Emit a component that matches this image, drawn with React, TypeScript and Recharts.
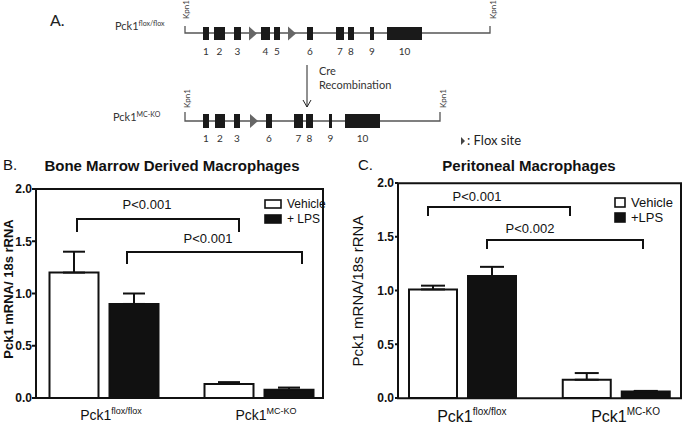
import React from "react";
import { Bar, BarChart, ErrorBar, Legend, XAxis, YAxis } from "recharts";

// genotypes on the x axis
const genotypes = ["flox", "ko"];
const genotypeSup = ["flox/flox", "MC-KO"];

// B. bone marrow derived macrophages
const bmdmVehicle = [1.2, 0.134];
const bmdmVehicleErr = [0.2, 0.018];
const bmdmLps = [0.9, 0.08];
const bmdmLpsErr = [0.1, 0.02];

// C. peritoneal macrophages
const periVehicle = [1.01, 0.17];
const periVehicleErr = [0.035, 0.062];
const periLps = [1.135, 0.06];
const periLpsErr = [0.085, 0.006];

const yTicks = [0, 0.5, 1, 1.5, 2];

const bmdmData = genotypes.map((g, i) => ({
  name: g,
  vehicle: bmdmVehicle[i],
  vehicleErr: [0, bmdmVehicleErr[i]],
  lps: bmdmLps[i],
  lpsErr: [0, bmdmLpsErr[i]],
}));

const periData = genotypes.map((g, i) => ({
  name: g,
  vehicle: periVehicle[i],
  vehicleErr: [0, periVehicleErr[i]],
  lps: periLps[i],
  lpsErr: [0, periLpsErr[i]],
}));

const ARIAL = "'Liberation Sans', Arial, sans-serif";
const CALIBRI = "Lato, 'Open Sans', sans-serif";

function GenotypeTick(props: any) {
  const { x, y, payload, fontSize, supSize, dx } = props;
  const sup = genotypeSup[genotypes.indexOf(payload.value)];
  return (
    <text
      x={x + dx}
      y={y + fontSize}
      textAnchor="middle"
      fontFamily={ARIAL}
      fontSize={fontSize}
      fill="#111"
    >
      Pck1
      <tspan dy={-fontSize * 0.42} fontSize={supSize}>
        {sup}
      </tspan>
    </text>
  );
}

function makeLegend(boxW: number, boxH: number, fontSize: number, plus: string) {
  return function LegendBox() {
    const items = [
      { label: "Vehicle", fill: "#fff" },
      { label: plus, fill: "#111" },
    ];
    return (
      <div style={{ fontFamily: ARIAL, fontSize, color: "#111", lineHeight: 1 }}>
        {items.map((it) => (
          <div key={it.label} style={{ display: "flex", alignItems: "center", height: 15 }}>
            <svg width={boxW + 2} height={boxH + 2} style={{ marginRight: 5 }}>
              <rect x={1} y={1} width={boxW} height={boxH} fill={it.fill} stroke="#111" strokeWidth={1.6} />
            </svg>
            <span>{it.label}</span>
          </div>
        ))}
      </div>
    );
  };
}

function GeneDiagram() {
  const topExons = [
    [203, 209, "1"], [214, 225, "2"], [234, 241, "3"], [261, 270, "4"], [274, 280, "5"],
    [307, 313, "6"], [336, 344, "7"], [348, 354, "8"], [370, 374, "9"], [387, 422, "10"],
  ] as [number, number, string][];
  const botExons = [
    [203, 209, "1"], [215, 225, "2"], [234, 240, "3"], [266, 272, "6"],
    [294, 303, "7"], [306, 313, "8"], [329, 332, "9"], [345, 380, "10"],
  ] as [number, number, string][];
  const tri = (x: number, cy: number) => (
    <polygon key={x} points={`${x},${cy - 7} ${x + 8},${cy} ${x},${cy + 7}`} fill="#666" />
  );
  const kpn = (x: number, y: number) => (
    <text transform={`translate(${x},${y}) rotate(-90)`} fontSize={8} fill="#444" fontFamily={CALIBRI}>
      Kpn1
    </text>
  );
  return (
    <g fontFamily={CALIBRI} fill="#333">
      <text x={50} y={26} fontSize={16} fill="#222">A.</text>
      <text x={115} y={30} fontSize={11} fill="#333">
        Pck1<tspan dy={-4} fontSize={7}>flox/flox</tspan>
      </text>
      <text x={113} y={121} fontSize={11} fill="#333">
        Pck1<tspan dy={-4} fontSize={7}>MC-KO</tspan>
      </text>

      {/* floxed allele */}
      <polyline points="185,26 185,33 490,33 490,26" fill="none" stroke="#555" strokeWidth={1.3} />
      {kpn(189, 19)}
      {kpn(496, 19)}
      {topExons.map(([a, b, n]) => (
        <g key={"t" + n}>
          <rect x={a} y={27} width={b - a} height={13} fill="#1a1a1a" />
          <text x={(a + b) / 2} y={55} fontSize={10} textAnchor="middle" fill="#333">{n}</text>
        </g>
      ))}
      {tri(249, 33.5)}
      {tri(288, 33.5)}

      {/* arrow */}
      <line x1={307} y1={65} x2={307} y2={107} stroke="#222" strokeWidth={1} />
      <polyline points="303,100 307,107 311,100" fill="none" stroke="#222" strokeWidth={1} />
      <text x={319} y={75} fontSize={11} fill="#333">Cre</text>
      <text x={319} y={89} fontSize={11} fill="#333">Recombination</text>

      {/* knockout allele */}
      <polyline points="185,112 185,121 440,121 440,112" fill="none" stroke="#555" strokeWidth={1.3} />
      {kpn(190, 108)}
      {kpn(446, 108)}
      {botExons.map(([a, b, n]) => (
        <g key={"b" + n}>
          <rect x={a} y={114} width={b - a} height={14} fill="#1a1a1a" />
          <text x={(a + b) / 2} y={142} fontSize={10} textAnchor="middle" fill="#333">{n}</text>
        </g>
      ))}
      {tri(250, 121)}

      <polygon points="461,137 465,141 461,145" fill="#444" />
      <text x={467} y={145} fontSize={13} fill="#222">: Flox site</text>
    </g>
  );
}

function Bracket({ x1, x2, y, h, label, lx, ly, fs }: any) {
  return (
    <g>
      <polyline points={`${x1},${y + h} ${x1},${y} ${x2},${y} ${x2},${y + h}`} fill="none" stroke="#111" strokeWidth={2} />
      <text x={lx} y={ly} textAnchor="middle" fontSize={fs} fontFamily={ARIAL} fill="#111">{label}</text>
    </g>
  );
}

export default function App() {
  return (
    <div style={{ position: "absolute", left: 0, top: 0, width: 683, height: 429, background: "#fff", overflow: "hidden" }}>
      {/* B */}
      <div style={{ position: "absolute", left: 0, top: 150 }}>
        <BarChart
          width={340}
          height={279}
          data={bmdmData}
          margin={{ top: 39, right: 17, left: 6, bottom: 6 }}
          barSize={49}
          barGap={11}
        >
          <XAxis
            dataKey="name"
            padding={{ left: -9.5, right: -13.5 }}
            axisLine={false}
            tickLine={false}
            height={25}
            tick={<GenotypeTick fontSize={14} supSize={9} dx={7} />}
          />
          <YAxis
            domain={[0, 2]}
            ticks={yTicks}
            width={30}
            axisLine={{ stroke: "#111", strokeWidth: 2 }}
            tickLine={{ stroke: "#111", strokeWidth: 2 }}
            tickSize={4}
            tickMargin={0}
            tickFormatter={(v: number) => v.toFixed(1)}
            tick={{ fill: "#111", fontSize: 12, fontWeight: 700, fontFamily: ARIAL }}
          />
          <Legend
            verticalAlign="middle"
            align="center"
            layout="vertical"
            content={makeLegend(16, 8, 12, "+ LPS")}
            wrapperStyle={{ left: 264, top: 46, width: 70, height: 30 }}
          />
          <Bar dataKey="vehicle" fill="#fff" stroke="#111" strokeWidth={2} isAnimationActive={false}>
            <ErrorBar dataKey="vehicleErr" width={11} stroke="#111" strokeWidth={2} />
          </Bar>
          <Bar dataKey="lps" fill="#111" stroke="#111" strokeWidth={2} isAnimationActive={false}>
            <ErrorBar dataKey="lpsErr" width={11} stroke="#111" strokeWidth={2} />
          </Bar>
        </BarChart>
      </div>

      {/* C */}
      <div style={{ position: "absolute", left: 340, top: 150 }}>
        <BarChart
          width={343}
          height={279}
          data={periData}
          margin={{ top: 33, right: 2, left: 28, bottom: 6 }}
          barSize={48}
          barGap={11}
        >
          <XAxis
            dataKey="name"
            padding={{ left: -12, right: -12.5 }}
            axisLine={false}
            tickLine={false}
            height={25}
            tick={<GenotypeTick fontSize={16} supSize={10} dx={9} />}
          />
          <YAxis
            domain={[0, 2]}
            ticks={yTicks}
            width={30}
            axisLine={{ stroke: "#111", strokeWidth: 2 }}
            tickLine={{ stroke: "#111", strokeWidth: 2 }}
            tickSize={3}
            tickMargin={1}
            tickFormatter={(v: number) => v.toFixed(1)}
            tick={{ fill: "#111", fontSize: 12, fontWeight: 700, fontFamily: ARIAL }}
          />
          <Legend
            verticalAlign="middle"
            align="center"
            layout="vertical"
            content={makeLegend(10, 9, 13, "+LPS")}
            wrapperStyle={{ left: 274, top: 45, width: 70, height: 30 }}
          />
          <Bar dataKey="vehicle" fill="#fff" stroke="#111" strokeWidth={2} isAnimationActive={false}>
            <ErrorBar dataKey="vehicleErr" width={12} stroke="#111" strokeWidth={2} />
          </Bar>
          <Bar dataKey="lps" fill="#111" stroke="#111" strokeWidth={2} isAnimationActive={false}>
            <ErrorBar dataKey="lpsErr" width={12} stroke="#111" strokeWidth={2} />
          </Bar>
        </BarChart>
      </div>

      <svg width={683} height={429} style={{ position: "absolute", left: 0, top: 0, pointerEvents: "none" }}>
        <GeneDiagram />
        {/* plot frames */}
        <polyline points="36,189 323,189 323,398 35,398" fill="none" stroke="#111" strokeWidth={2} />
        <polyline points="398,183.3 681,183.3 681,398.3 397,398.3" fill="none" stroke="#111" strokeWidth={2} />
        <g fontFamily={ARIAL} fill="#111">
          <text x={3} y={170} fontSize={15}>B.</text>
          <text x={172} y={171} fontSize={15} fontWeight={700} textAnchor="middle">Bone Marrow Derived Macrophages</text>
          <text transform="translate(13,289) rotate(-90)" fontSize={13} fontWeight={700} textAnchor="middle">Pck1 mRNA/ 18s rRNA</text>
          <text x={358} y={170} fontSize={15}>C.</text>
          <text x={529} y={171} fontSize={15} fontWeight={700} textAnchor="middle">Peritoneal Macrophages</text>
          <text transform="translate(363,291) rotate(-90)" fontSize={15} textAnchor="middle">Pck1 mRNA/18s rRNA</text>
        </g>
        <Bracket x1={77} x2={239} y={219} h={13} label="P<0.001" lx={147} ly={209} fs={13} />
        <Bracket x1={127} x2={302} y={252} h={12} label="P<0.001" lx={208} ly={243} fs={13} />
        <Bracket x1={428} x2={570} y={207} h={9} label="P<0.001" lx={477} ly={201} fs={13} />
        <Bracket x1={487} x2={643} y={240} h={9} label="P<0.002" lx={530} ly={233} fs={13} />
      </svg>
    </div>
  );
}
